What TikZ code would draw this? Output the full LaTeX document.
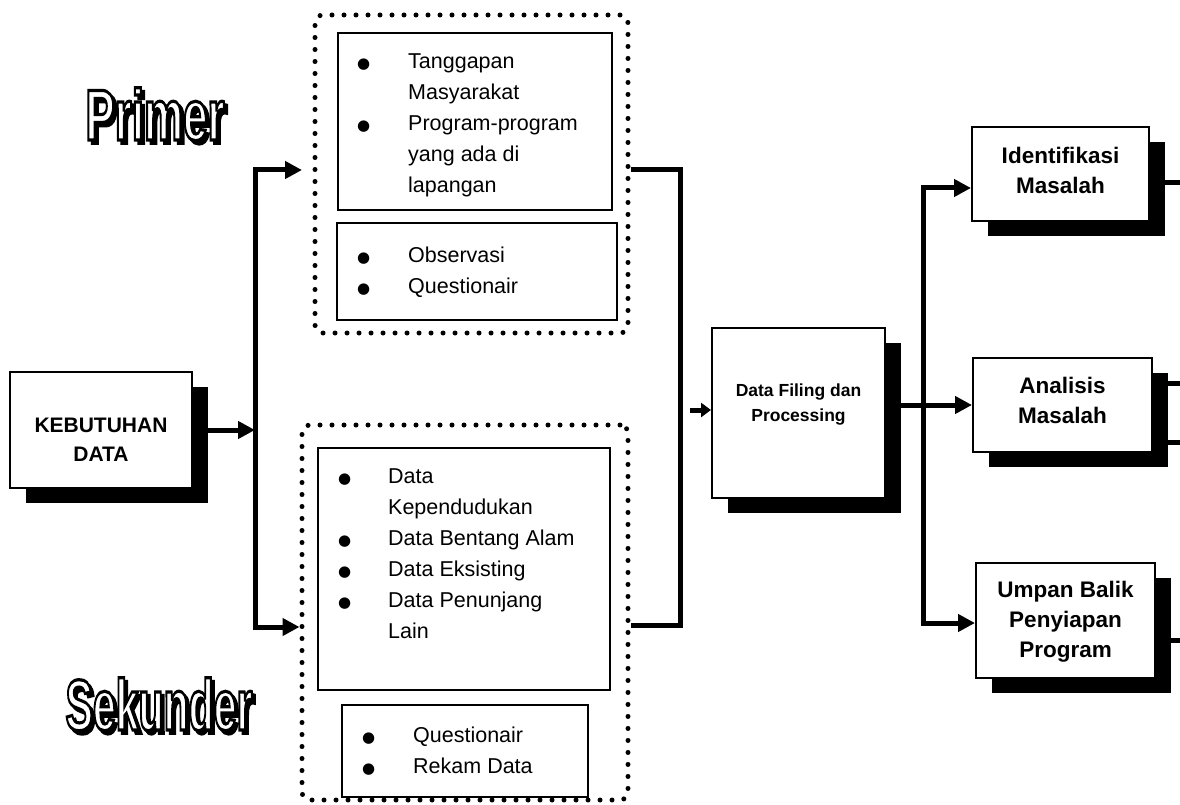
\documentclass[tikz,border=0pt]{standalone}
\usepackage{fontspec}
\setmainfont{Liberation Sans}
\newfontfamily\fatfont{Liberation Sans}[BoldFeatures={FakeBold=4}]
\newfontfamily\djvfont{DejaVu Sans}
\usetikzlibrary{arrows.meta,shadows,calc}
\newcommand\mybul{{\djvfont\fontsize{15}{15}\selectfont ●}}
\newcommand\myListFont{\fontsize{21.5}{31}\selectfont}
\newcommand\myOutline[1]{\special{pdf:literal direct 2 Tr 3.2 w 0 G}#1\special{pdf:literal direct 0 Tr}}
\newcommand\myTitle[1]{\makebox[0pt][l]{\hspace*{5.5pt}\raisebox{-3.5pt}{\color{black}\fatfont\bfseries #1}}\myOutline{#1}}
\tikzset{
  box/.style={draw=black, line width=2pt, fill=white, rectangle, inner sep=0pt},
  sbox/.style={box, general shadow={fill=black, shadow xshift=16pt, shadow yshift=-15pt}},
  dotbox/.style={draw=black, line width=5pt, dash pattern=on 0pt off 12pt, line cap=round, rounded corners=8pt, rectangle, inner sep=0pt},
  conn/.style={line width=5pt},
  tipa/.style={-{Triangle[length=17pt,width=17pt]}},
  tipb/.style={{Triangle[length=17pt,width=17pt]}-{Triangle[length=17pt,width=17pt]}},
  tips/.style={-{Triangle[length=10pt,width=14pt]}},
  lst/.style={anchor=north west, inner sep=0pt, align=left},
  btxt/.style={inner sep=0pt, align=center, font=\bfseries},
  otl/.style={inner sep=0pt, text=white, font=\fontsize{72}{72}\selectfont\bfseries},
}
\begin{document}
\begin{tikzpicture}[x=1pt,y=-1pt]
\fill[white] (0,0) rectangle (1180,805);
\useasboundingbox (0,0) rectangle (1180,805);

% coordinates for connector bends and free ends
\coordinate (jt) at (255,170);
\coordinate (jb) at (255,627);
\coordinate (tu) at (302,170);
\coordinate (mt) at (680,170);
\coordinate (mb) at (680,625);
\coordinate (ma) at (690,410);
\coordinate (rt) at (923,188);
\coordinate (rb) at (923,623);
\coordinate (e1) at (1180,183);
\coordinate (e2) at (1180,383);
\coordinate (e3) at (1180,442);
\coordinate (e4) at (1180,640);

% dotted groups
\node[dotbox, minimum width=313pt, minimum height=318pt] (pd) at (471.5,174) {};
\node[dotbox, minimum width=326pt, minimum height=375pt] (sd) at (465,612.5) {};

% boxes
\node[sbox, minimum width=182pt, minimum height=116pt] (kd) at (101,430) {};
\node[sbox, minimum width=173pt, minimum height=170pt] (df) at (798.5,413) {};
\node[sbox, minimum width=177pt, minimum height=94pt] (id) at (1060.5,174) {};
\node[sbox, minimum width=179pt, minimum height=94pt] (an) at (1062.5,405) {};
\node[sbox, minimum width=179pt, minimum height=115pt] (ub) at (1065.5,620.5) {};

\node[box, minimum width=274pt, minimum height=177pt] (u1) at (475,121.5) {};
\node[box, minimum width=280pt, minimum height=97pt] (u2) at (477,271.5) {};
\node[box, minimum width=292pt, minimum height=242pt] (l1) at (464,569) {};
\node[box, minimum width=246pt, minimum height=92pt] (l2) at (465,751) {};

% connectors
\draw[conn,tipa] (kd.east) -- (kd.east -| jt);
\draw[conn,tipb] (tu) -- (jt) -- (jb) -- (jb -| sd.west);
\draw[conn] (mt -| pd.east) -- (mt) -- (mb) -- (mb -| sd.east);
\draw[conn,tips] (ma) -- (ma -| df.west);
\draw[conn,tipb] (rt -| id.west) -- (rt) -- (rb) -- (rb -| ub.west);
\draw[conn,tipa] (df.east |- an.west) -- (an.west);
\draw[conn] (e1 -| id.east) -- (e1);
\draw[conn] (e2 -| an.east) -- (e2);
\draw[conn] (e3 -| an.east) -- (e3);
\draw[conn] (e4 -| ub.east) -- (e4);

% box texts
\node[btxt, font=\fontsize{21}{29}\selectfont\bfseries] (kdt) at (101,440) {KEBUTUHAN\\DATA};
\node[btxt, font=\fontsize{17.5}{25}\selectfont\bfseries] (dft) at (798.5,405) {Data Filing dan\\Processing};
\node[btxt, font=\fontsize{22.5}{30}\selectfont\bfseries] (idt) at (1060.5,170) {Identifikasi\\Masalah};
\node[btxt, font=\fontsize{22.5}{30}\selectfont\bfseries] (ant) at (1062.5,400) {Analisis\\Masalah};
\node[btxt, font=\fontsize{22.5}{30}\selectfont\bfseries] (ubt) at (1065.5,622) {Umpan Balik\\Penyiapan\\Program};

% lists
\node[lst] (u1t) at (357,47) {\myListFont\begin{tabular}{@{}p{51pt}@{}l@{}}
\mybul & Tanggapan\\ & Masyarakat\\ \mybul & Program-program\\ & yang ada di\\ & lapangan\end{tabular}};
\node[lst] (u2t) at (357,241) {\myListFont\begin{tabular}{@{}p{51pt}@{}l@{}}
\mybul & Observasi\\ \mybul & Questionair\end{tabular}};
\node[lst] (l1t) at (338,462) {\myListFont\begin{tabular}{@{}p{50pt}@{}l@{}}
\mybul & Data\\ & Kependudukan\\ \mybul & Data Bentang Alam\\ \mybul & Data Eksisting\\ \mybul & Data Penunjang\\ & Lain\end{tabular}};
\node[lst] (l2t) at (362,721) {\myListFont\begin{tabular}{@{}p{51pt}@{}l@{}}
\mybul & Questionair\\ \mybul & Rekam Data\end{tabular}};

% outlined titles with drop shadow
\node[otl] (primer) at (155,116) {\scalebox{0.61}[1]{\myTitle{Primer}}};
\node[otl] (sekunder) at (159,706) {\scalebox{0.57}[1]{\myTitle{Sekunder}}};
\end{tikzpicture}
\end{document}
